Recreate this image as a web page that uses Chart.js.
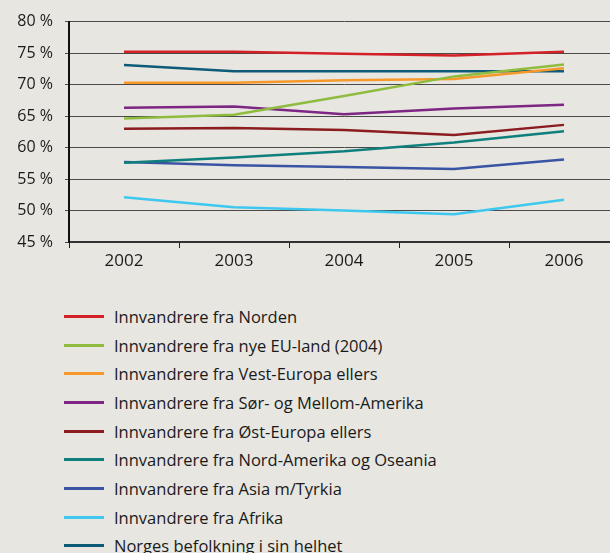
<!DOCTYPE html>
<html>
<head>
<meta charset="utf-8">
<script src="https://cdn.jsdelivr.net/npm/chart.js@4/dist/chart.umd.min.js"></script>
<style>
  html, body { margin: 0; padding: 0; background: #e7e6e1; overflow: hidden; width: 610px; height: 553px; }
  #wrap { position: relative; width: 620px; height: 280px; }
  #legend { position: absolute; left: 64px; top: 302px; margin: 0; padding: 0; list-style: none;
            font-family: "Open Sans", sans-serif; font-size: 16.5px; color: #1a1a1a; }
  #legend li { height: 28.7px; display: flex; align-items: center; }
  #legend span.sw { display: inline-block; width: 40px; height: 3px; margin-right: 10px; }
</style>
</head>
<body>
<div id="wrap"><canvas id="chart" width="620" height="280"></canvas></div>
<ul id="legend"></ul>
<script>
// years on the x axis
const years = ["2002", "2003", "2004", "2005", "2006"];

// share employed, per cent
const norden = [75.2, 75.2, 74.9, 74.6, 75.2];
const nyeEU = [64.6, 65.2, 68.2, 71.3, 73.2];
const vestEuropa = [70.3, 70.3, 70.7, 70.9, 72.6];
const sorMellomAmerika = [66.3, 66.5, 65.3, 66.2, 66.8];
const ostEuropa = [63.0, 63.1, 62.8, 62.0, 63.6];
const nordAmerika = [57.6, 58.4, 59.4, 60.8, 62.6];
const asia = [57.7, 57.2, 56.9, 56.6, 58.1];
const afrika = [52.1, 50.5, 50.0, 49.4, 51.7];
const helhet = [73.1, 72.1, 72.1, 72.1, 72.1];

const yTicks = [45, 50, 55, 60, 65, 70, 75, 80];

const series = [
  { label: "Innvandrere fra Norden", data: norden, color: "#d42027" },
  { label: "Innvandrere fra nye EU-land (2004)", data: nyeEU, color: "#8fbc3f" },
  { label: "Innvandrere fra Vest-Europa ellers", data: vestEuropa, color: "#f7982a" },
  { label: "Innvandrere fra Sør- og Mellom-Amerika", data: sorMellomAmerika, color: "#7d2683" },
  { label: "Innvandrere fra Øst-Europa ellers", data: ostEuropa, color: "#8c1c1f" },
  { label: "Innvandrere fra Nord-Amerika og Oseania", data: nordAmerika, color: "#0e7f7c" },
  { label: "Innvandrere fra Asia m/Tyrkia", data: asia, color: "#3a54a4" },
  { label: "Innvandrere fra Afrika", data: afrika, color: "#3ec8f0" },
  { label: "Norges befolkning i sin helhet", data: helhet, color: "#0e5b78" },
];

const family = "'Open Sans', sans-serif";

new Chart(document.getElementById("chart"), {
  type: "line",
  data: {
    labels: years,
    datasets: series.map((s) => ({
      label: s.label,
      data: s.data,
      borderColor: s.color,
      backgroundColor: s.color,
      borderWidth: 2.5,
      pointRadius: 0,
      tension: 0,
    })),
  },
  options: {
    responsive: false,
    animation: false,
    layout: { padding: { top: 20, right: 1, bottom: 0, left: 0 } },
    plugins: { legend: { display: false }, tooltip: { enabled: false } },
    scales: {
      x: {
        offset: true,
        grid: { display: true, drawOnChartArea: false, drawTicks: true, tickLength: 6, color: "#222", offset: true },
        border: { color: "#333", width: 2 },
        ticks: { color: "#1a1a1a", font: { family, size: 17 }, padding: 3 },
        afterFit: (scale) => { scale.height = 38; },
      },
      y: {
        min: 45,
        max: 80,
        afterBuildTicks: (scale) => { scale.ticks = yTicks.map((v) => ({ value: v })); },
        grid: { color: "#4a4a4a", lineWidth: 1, tickLength: 4 },
        border: { color: "#111", width: 2 },
        ticks: { color: "#1a1a1a", font: { family, size: 16 }, padding: 12, callback: (v) => v + " %" },
        afterFit: (scale) => { scale.width = 69; },
      },
    },
  },
});

const legend = document.getElementById("legend");
series.forEach((s) => {
  const li = document.createElement("li");
  li.innerHTML = '<span class="sw" style="background:' + s.color + '"></span>' + s.label;
  legend.appendChild(li);
});
</script>
</body>
</html>
